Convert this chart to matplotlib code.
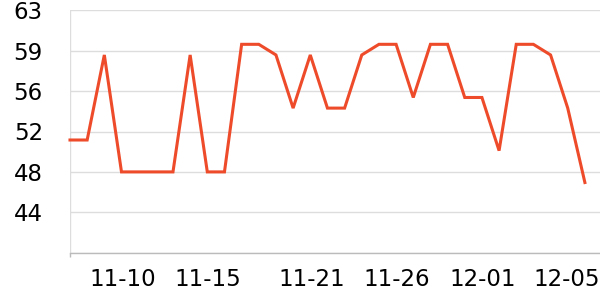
import matplotlib
matplotlib.use("Agg")
import matplotlib.pyplot as plt
import matplotlib.transforms as mtransforms

dates = ["11-05", "11-06", "11-07", "11-08", "11-09", "11-10", "11-11", "11-12",
         "11-13", "11-14", "11-15", "11-16", "11-17", "11-18", "11-19", "11-20",
         "11-21", "11-22", "11-23", "11-24", "11-25", "11-26", "11-27", "11-28",
         "11-29", "11-30", "12-01", "12-02", "12-03", "12-04", "12-05"]
values = [51, 51, 59, 48, 48, 48, 48, 59, 48, 48, 60, 60, 59, 54, 59, 54,
          54, 59, 60, 60, 55, 60, 60, 55, 55, 50, 60, 60, 59, 54, 47]
grid_dates = ["11-05", "11-10", "11-15", "11-21", "11-26", "12-01"]
label_dates = ["11-10", "11-15", "11-21", "11-26", "12-01", "12-05"]
ytick_values = [40.4, 44.2, 48.0, 51.8, 55.6, 59.4, 63.2]

LINE = "#EE4B2B"
GRID = "#DDDDDD"
AXIS = "#BBBBBB"

fig = plt.figure(figsize=(6, 3), dpi=100)
ax = fig.add_axes([70 / 600, 1 - 252.7 / 300, 530 / 600, (252.7 - 10.3) / 300])

x = list(range(len(dates)))
ax.plot(x, values, color=LINE, lw=2.2, solid_joinstyle="miter", clip_on=False, zorder=3)

xmax = len(dates) - 1 + 0.88
ax.set_xlim(0, xmax)
ax.set_ylim(ytick_values[0], ytick_values[-1])

# gridlines / tick marks
ax.set_xticks([dates.index(d) for d in grid_dates], minor=True)
label_pos = [dates.index(d) for d in label_dates[:-1]] + [xmax]
ax.set_xticks(label_pos)
ax.set_xticklabels(label_dates, fontsize=16.5, ha="right")
offset = mtransforms.ScaledTranslation(-2 / 100, 0, fig.dpi_scale_trans)
for lab in ax.get_xticklabels():
    lab.set_transform(lab.get_transform() + offset)
ax.tick_params(axis="x", which="major", length=0, pad=11, colors="black")
ax.tick_params(axis="x", which="minor", length=3, width=1, color=AXIS)
ax.grid(True, axis="x", which="minor", color=GRID, lw=1)

ax.set_yticks(ytick_values)
ax.set_yticklabels([""] + [f"{v:.0f}" for v in ytick_values[1:]], fontsize=16.5)
ax.tick_params(axis="y", length=0, pad=19.5)
ax.grid(True, axis="y", which="major", color=GRID, lw=1)
ax.set_axisbelow(True)

for s in ["top", "right", "left"]:
    ax.spines[s].set_visible(False)
ax.spines["bottom"].set_color(AXIS)
ax.spines["bottom"].set_linewidth(1)

fig.savefig("out.png", dpi=100)
